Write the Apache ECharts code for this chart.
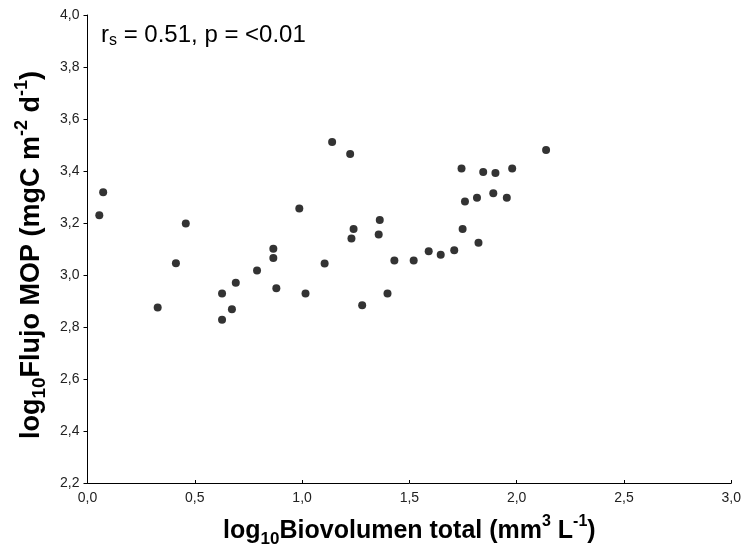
<!DOCTYPE html>
<html>
<head>
<meta charset="utf-8">
<script src="https://cdn.jsdelivr.net/npm/echarts@6/dist/echarts.min.js"></script>
<style>
  html, body { margin: 0; padding: 0; background: #fff; }
  #chart { width: 744px; height: 553px; }
</style>
</head>
<body>
<div id="chart"></div>
<script>
  // log10 biovolumen total (x) vs log10 flujo MOP (y)
  const biovolumen = [0.055, 0.073, 0.327, 0.412, 0.458, 0.627, 0.627, 0.673, 0.691, 0.790,
    0.866, 0.866, 0.880, 0.987, 1.016, 1.105, 1.140, 1.224, 1.230, 1.240,
    1.280, 1.362, 1.357, 1.398, 1.430, 1.520, 1.590, 1.646, 1.709, 1.748,
    1.743, 1.759, 1.815, 1.822, 1.844, 1.901, 1.891, 1.954, 1.979, 2.137]
  const flujo = [3.230, 3.318, 2.875, 3.045, 3.198, 2.929, 2.828, 2.868, 2.970, 3.017,
    3.101, 3.065, 2.949, 3.256, 2.929, 3.044, 3.512, 3.465, 3.140, 3.177,
    2.884, 3.212, 3.156, 2.929, 3.056, 3.056, 3.091, 3.078, 3.095, 3.177,
    3.410, 3.283, 3.297, 3.124, 3.396, 3.392, 3.314, 3.297, 3.410, 3.481]
  const xTicks = ['0,0', '0,5', '1,0', '1,5', '2,0', '2,5', '3,0']

  const chart = echarts.init(document.getElementById('chart'))
  const font = 'Liberation Sans, Arial, sans-serif'

  // rich text styles for the axis titles (sub / superscripts)
  function titleRich(size) {
    return {
      b: { fontSize: size, fontWeight: 'bold', fontFamily: font, color: '#000', lineHeight: size + 9, verticalAlign: 'middle' },
      sub: { fontSize: size - 8, fontWeight: 'bold', fontFamily: font, color: '#000', lineHeight: size - 8, verticalAlign: 'bottom' },
      sup: { fontSize: size - 9, fontWeight: 'bold', fontFamily: font, color: '#000', lineHeight: size - 9, verticalAlign: 'top' }
    }
  }

  chart.setOption({
    animation: false,
    title: {
      left: 96,
      top: 16,
      text: '{m|r}{s|s}{m| = 0.51, p = <0.01}',
      textStyle: {
        rich: {
          m: { fontSize: 24, fontWeight: 'normal', fontFamily: font, color: '#000', lineHeight: 28, verticalAlign: 'middle' },
          s: { fontSize: 16, fontWeight: 'normal', fontFamily: font, color: '#000', lineHeight: 14, verticalAlign: 'bottom' }
        }
      }
    },
    grid: { left: 87.5, right: 12, top: 15, bottom: 69 },
    xAxis: {
      type: 'value',
      min: 0,
      max: 3,
      interval: 0.5,
      name: '{b|log}{sub|10}{b|Biovolumen total (mm}{sup|3}{b| L}{sup|-1}{b|)}',
      nameLocation: 'middle',
      nameGap: 31,
      nameTextStyle: { rich: titleRich(25) },
      axisLine: { lineStyle: { color: '#000', width: 1 } },
      axisTick: { inside: true, length: 3, lineStyle: { color: '#000' } },
      axisLabel: {
        fontSize: 14, fontFamily: font, color: '#222', margin: 8,
        formatter: (v) => xTicks[Math.round(v / 0.5)]
      },
      splitLine: { show: false }
    },
    yAxis: {
      type: 'value',
      min: 2.2,
      max: 4.0,
      interval: 0.2,
      name: '{b|log}{sub|10}{b|Flujo MOP (mgC m}{sup|-2}{b| d}{sup|-1}{b|)}',
      nameLocation: 'middle',
      nameRotate: 90,
      nameGap: 31,
      nameTextStyle: { rich: titleRich(27), padding: [0, 12, 0, 0] },
      axisLine: { show: true, lineStyle: { color: '#000', width: 1 } },
      axisTick: { show: true, length: 4, lineStyle: { color: '#000' } },
      axisLabel: {
        fontSize: 14, fontFamily: font, color: '#222', margin: 8,
        formatter: (v) => v.toFixed(1).replace('.', ',')
      },
      splitLine: { show: false }
    },
    series: [{
      type: 'scatter',
      symbol: 'circle',
      symbolSize: 8,
      itemStyle: { color: '#000' },
      data: biovolumen.map((x, i) => [x, flujo[i]])
    }]
  })
</script>
</body>
</html>
